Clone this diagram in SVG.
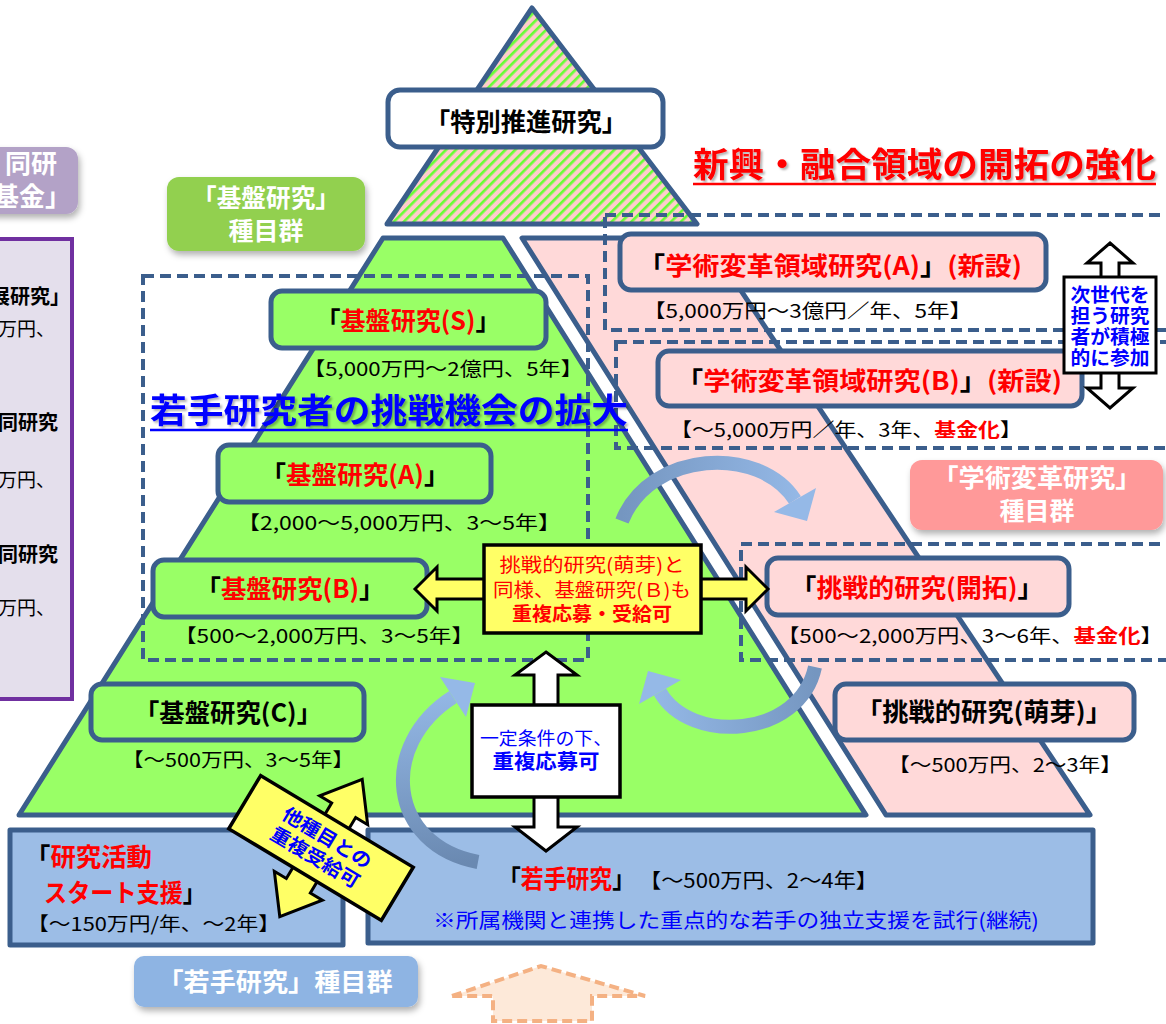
<svg xmlns="http://www.w3.org/2000/svg" width="1166" height="1024" viewBox="0 0 1166 1024">
<defs>
<style>
text{font-family:"Noto Sans CJK JP","Noto Sans",sans-serif;}
.b{font-weight:700}
.r{fill:#ff0000}
.k{fill:#000000}
.bl{fill:#0000ff}
.w{fill:#ffffff}
.nd{stroke:#3b5e8c;stroke-width:5;stroke-linejoin:round}
.gn{fill:#99ff66}
.pk{fill:#ffd9d9}
.bx{fill:#9cbde6}
.ds{fill:none;stroke:#3b5e8c;stroke-width:4;stroke-dasharray:11 6}
.ar{stroke:#000000;stroke-width:3;stroke-linejoin:miter}
.yl{fill:#ffff66}
.f19{font-size:19px}
.f20{font-size:20px}
.f25{font-size:25px}
.cv{fill:none;stroke-width:14}
</style>
<pattern id="hatch" width="7" height="7" patternUnits="userSpaceOnUse" patternTransform="rotate(45)">
<rect width="7" height="7" fill="#ffcccc"/>
<rect width="2.6" height="7" fill="#66ff33"/>
</pattern>
<filter id="sh" x="-10%" y="-15%" width="130%" height="150%">
<feDropShadow dx="2" dy="4" stdDeviation="3" flood-color="#000" flood-opacity="0.3"/>
</filter>
<filter id="tsh" x="-5%" y="-20%" width="110%" height="150%">
<feDropShadow dx="2" dy="2" stdDeviation="1" flood-color="#000" flood-opacity="0.3"/>
</filter>
<linearGradient id="g1" gradientUnits="userSpaceOnUse" x1="622" y1="520" x2="805" y2="520">
<stop offset="0" stop-color="#7596c0"/><stop offset="1" stop-color="#95b9e7"/>
</linearGradient>
<linearGradient id="g2" gradientUnits="userSpaceOnUse" x1="815" y1="667" x2="648" y2="680">
<stop offset="0" stop-color="#7596c0"/><stop offset="1" stop-color="#95b9e7"/>
</linearGradient>
<linearGradient id="g3" gradientUnits="userSpaceOnUse" x1="478" y1="862" x2="460" y2="685">
<stop offset="0" stop-color="#6a89b1"/><stop offset="1" stop-color="#95b9e7"/>
</linearGradient>
</defs>
<rect width="1166" height="1024" fill="#ffffff"/>

<g id="background-shapes">
<polygon points="383,238 503,238 866,815 19,815" class="gn nd"/>
<polygon points="522,238 706,238 1090,815 886,815" class="pk nd"/>
<polygon points="532,8 697,224 387,224" fill="url(#hatch)" class="nd"/>
</g>

<g id="group-kokusai">
<rect x="-20" y="147" width="98" height="67" rx="12" fill="#b3a2c7" filter="url(#sh)"/>
<text x="57" y="173" class="b w" font-size="26" text-anchor="end">同研</text>
<text x="71" y="206" class="b w" font-size="26" text-anchor="end">基金」</text>
<rect x="-6" y="239" width="78" height="460" fill="#e4dfec" stroke="#7030a0" stroke-width="4"/>
<text x="70" y="304" class="b k f20" text-anchor="end">展研究」</text>
<text x="-2" y="336" class="k f19">万円、</text>
<text x="58" y="430" class="b k f20" text-anchor="end">同研究</text>
<text x="-2" y="487" class="k f19">万円、</text>
<text x="58" y="562" class="b k f20" text-anchor="end">同研究</text>
<text x="-2" y="615" class="k f19">万円、</text>
</g>

<g id="dashed-groups">
<rect class="ds" x="143" y="276" width="445" height="384"/>
<rect class="ds" x="605" y="215" width="580" height="115"/>
<rect class="ds" x="616" y="342" width="570" height="106"/>
<rect class="ds" x="741" y="544" width="445" height="116"/>
</g>

<g id="node-tokubetsu">
<rect x="388" y="90" width="275" height="57" rx="12" fill="#ffffff" class="nd"/>
<text x="526" y="131" class="b k f25" text-anchor="middle" textLength="202" lengthAdjust="spacingAndGlyphs">「特別推進研究」</text>
</g>

<g id="label-kiban">
<rect x="167" y="177" width="198" height="74" rx="12" fill="#92d050" filter="url(#sh)"/>
<text x="266" y="207" class="b w f25" text-anchor="middle" textLength="148" lengthAdjust="spacingAndGlyphs">「基盤研究」</text>
<text x="266" y="240" class="b w f25" text-anchor="middle">種目群</text>
</g>

<g id="node-kiban-s">
<rect x="271" y="291" width="275" height="57" rx="11" class="gn nd"/>
<text x="408" y="330" class="b f25" text-anchor="middle" textLength="185" lengthAdjust="spacingAndGlyphs"><tspan class="k">「</tspan><tspan class="r">基盤研究(S)</tspan><tspan class="k">」</tspan></text>
<text x="443" y="376" class="k f19" text-anchor="middle" textLength="280" lengthAdjust="spacingAndGlyphs">【5,000万円～2億円、5年】</text>
</g>

<g id="title-wakate">
<text x="150" y="423" class="b bl" font-size="34" textLength="478" lengthAdjust="spacingAndGlyphs" filter="url(#tsh)">若手研究者の挑戦機会の拡大</text>
<line x1="150" y1="430" x2="628" y2="430" stroke="#0000ff" stroke-width="2.5"/>
</g>

<g id="node-kiban-a">
<rect x="218" y="445" width="273" height="57" rx="11" class="gn nd"/>
<text x="355" y="484" class="b f25" text-anchor="middle" textLength="189" lengthAdjust="spacingAndGlyphs"><tspan class="k">「</tspan><tspan class="r">基盤研究(A)</tspan><tspan class="k">」</tspan></text>
<text x="399" y="530" class="k f19" text-anchor="middle" textLength="324" lengthAdjust="spacingAndGlyphs">【2,000～5,000万円、3～5年】</text>
</g>

<g id="node-kiban-b">
<rect x="153" y="560" width="274" height="57" rx="11" class="gn nd"/>
<text x="290" y="598" class="b f25" text-anchor="middle" textLength="189" lengthAdjust="spacingAndGlyphs"><tspan class="k">「</tspan><tspan class="r">基盤研究(B)</tspan><tspan class="k">」</tspan></text>
<text x="324" y="643" class="k f19" text-anchor="middle" textLength="300" lengthAdjust="spacingAndGlyphs">【500～2,000万円、3～5年】</text>
</g>

<g id="node-kiban-c">
<rect x="91" y="684" width="273" height="56" rx="11" class="gn nd"/>
<text x="228" y="722" class="b k f25" text-anchor="middle" textLength="188" lengthAdjust="spacingAndGlyphs">「基盤研究(C)」</text>
<text x="238" y="767" class="k f19" text-anchor="middle" textLength="232" lengthAdjust="spacingAndGlyphs">【～500万円、3～5年】</text>
</g>

<g id="title-shinko">
<text x="693" y="177" class="b r" font-size="34" textLength="463" lengthAdjust="spacingAndGlyphs" filter="url(#tsh)">新興・融合領域の開拓の強化</text>
<line x1="693" y1="184" x2="1156" y2="184" stroke="#ff0000" stroke-width="2.5"/>
</g>

<g id="node-gakujutsu-a">
<rect x="620" y="234" width="426" height="56" rx="11" class="pk nd"/>
<text x="830" y="275" class="b f25" text-anchor="middle" textLength="384" lengthAdjust="spacingAndGlyphs"><tspan class="k">「</tspan><tspan class="r">学術変革領域研究(A)</tspan><tspan class="k">」</tspan><tspan class="r">(新設)</tspan></text>
<text x="643" y="318" class="k f19" textLength="329" lengthAdjust="spacingAndGlyphs">【5,000万円～3億円／年、5年】</text>
</g>

<g id="node-gakujutsu-b">
<rect x="658" y="351" width="424" height="55" rx="11" class="pk nd"/>
<text x="869" y="390" class="b f25" text-anchor="middle" textLength="386" lengthAdjust="spacingAndGlyphs"><tspan class="k">「</tspan><tspan class="r">学術変革領域研究(B)</tspan><tspan class="k">」</tspan><tspan class="r">(新設)</tspan></text>
<text x="670" y="437" class="k f19" textLength="352" lengthAdjust="spacingAndGlyphs">【～5,000万円／年、3年、<tspan class="r b">基金化</tspan>】</text>
</g>

<g id="label-gakujutsu">
<rect x="910" y="460" width="253" height="70" rx="12" fill="#ff9999" filter="url(#sh)"/>
<text x="1037" y="487" class="b w f25" text-anchor="middle" textLength="209" lengthAdjust="spacingAndGlyphs">「学術変革研究」</text>
<text x="1037" y="520" class="b w f25" text-anchor="middle">種目群</text>
</g>

<g id="node-kaitaku">
<rect x="767" y="558" width="302" height="57" rx="11" class="pk nd"/>
<text x="917" y="597" class="b f25" text-anchor="middle" textLength="253" lengthAdjust="spacingAndGlyphs"><tspan class="k">「</tspan><tspan class="r">挑戦的研究(開拓)</tspan><tspan class="k">」</tspan></text>
<text x="777" y="643" class="k f19" textLength="386" lengthAdjust="spacingAndGlyphs">【500～2,000万円、3～6年、<tspan class="r b">基金化</tspan>】</text>
</g>

<g id="node-houga">
<rect x="835" y="684" width="299" height="56" rx="11" class="pk nd"/>
<text x="984" y="721" class="b k f25" text-anchor="middle" textLength="256" lengthAdjust="spacingAndGlyphs">「挑戦的研究(萌芽)」</text>
<text x="1005" y="772" class="k f19" text-anchor="middle" textLength="234" lengthAdjust="spacingAndGlyphs">【～500万円、2～3年】</text>
</g>

<g id="node-start">
<rect x="10" y="830" width="333" height="115" class="bx nd"/>
<text x="25" y="866" class="b f25" textLength="127" lengthAdjust="spacingAndGlyphs"><tspan class="k">「</tspan><tspan class="r">研究活動</tspan></text>
<text x="44" y="902" class="b f25" textLength="162" lengthAdjust="spacingAndGlyphs"><tspan class="r">スタート支援</tspan><tspan class="k">」</tspan></text>
<text x="27" y="931" class="k f19" textLength="253" lengthAdjust="spacingAndGlyphs">【～150万円/年、～2年】</text>
</g>

<g id="node-wakate">
<rect x="368" y="830" width="725" height="113" class="bx nd"/>
<text x="498" y="888" class="b f25" textLength="137" lengthAdjust="spacingAndGlyphs"><tspan class="k">「</tspan><tspan class="r">若手研究</tspan><tspan class="k">」</tspan></text>
<text x="639" y="888" class="k f20" textLength="239" lengthAdjust="spacingAndGlyphs">【～500万円、2～4年】</text>
<text x="433" y="928" class="bl f20" textLength="606" lengthAdjust="spacingAndGlyphs">※所属機関と連携した重点的な若手の独立支援を試行(継続)</text>
</g>

<g id="label-wakate">
<rect x="134" y="956" width="284" height="51" rx="10" fill="#8eb4e3" filter="url(#sh)"/>
<text x="275" y="991" class="b w f25" text-anchor="middle" textLength="235" lengthAdjust="spacingAndGlyphs">「若手研究」種目群</text>
</g>

<g id="house-arrow">
<polygon points="452,996 541,966 645,996 592,996 592,1021 493,1021 493,996" fill="#fde9d9" stroke="#f4b183" stroke-width="4" stroke-dasharray="10 5"/>
</g>

<g id="connectors">
<path class="cv" stroke="url(#g1)" d="M 622 521 C 650 450 760 445 795 500"/>
<polygon points="774,512 816,488 807,521" fill="#95b9e7"/>
<path class="cv" stroke="url(#g2)" d="M 815 667 C 800 738 690 745 660 692"/>
<polygon points="681,680 639,704 648,671" fill="#95b9e7"/>
<path class="cv" stroke="url(#g3)" stroke-width="17" d="M 478 862 C 388 845 378 745 453 697"/>
<polygon points="466,717 440,677 475,683" fill="#95b9e7"/>

<polygon points="415,589 437,567 437,579 746,579 746,567 768,589 746,611 746,599 437,599 437,611" class="yl ar"/>
<polygon points="546,652 577,675 558,675 558,827 577,827 546,851 515,827 534,827 534,675 515,675" fill="#ffffff" class="ar"/>
<polygon points="1110,243 1133,263 1119,263 1119,388 1133,388 1110,408 1087,388 1101,388 1101,263 1087,263" fill="#ffffff" class="ar"/>
<g transform="translate(321,848) rotate(31)">
<polygon points="0,-80 28,-44 14,-44 14,44 28,44 0,80 -28,44 -14,44 -14,-44 -28,-44" class="yl ar"/>
</g>
</g>

<g id="label-juufuku-b">
<rect x="484" y="545" width="217" height="88" class="yl" stroke="#000" stroke-width="3.5"/>
<text x="592" y="572" class="r f19" text-anchor="middle" textLength="185" lengthAdjust="spacingAndGlyphs">挑戦的研究(萌芽)と</text>
<text x="592" y="597" class="r f19" text-anchor="middle" textLength="198" lengthAdjust="spacingAndGlyphs">同様、基盤研究(Ｂ)も</text>
<text x="592" y="621" class="r b f19" text-anchor="middle" textLength="160" lengthAdjust="spacingAndGlyphs">重複応募・受給可</text>
</g>

<g id="label-ittei">
<rect x="472" y="705" width="148" height="92" fill="#ffffff" stroke="#000" stroke-width="3.5"/>
<text x="546" y="745" class="bl" font-size="18" text-anchor="middle" textLength="132" lengthAdjust="spacingAndGlyphs">一定条件の下、</text>
<text x="546" y="769" class="bl b f20" text-anchor="middle" textLength="107" lengthAdjust="spacingAndGlyphs">重複応募可</text>
</g>

<g id="label-jisedai">
<rect x="1064" y="277" width="92" height="96" fill="#ffffff" stroke="#000" stroke-width="3"/>
<text x="1110" y="302" class="bl b f19" text-anchor="middle" textLength="79" lengthAdjust="spacingAndGlyphs">次世代を</text>
<text x="1110" y="323" class="bl b f19" text-anchor="middle" textLength="79" lengthAdjust="spacingAndGlyphs">担う研究</text>
<text x="1110" y="344" class="bl b f19" text-anchor="middle" textLength="79" lengthAdjust="spacingAndGlyphs">者が積極</text>
<text x="1110" y="365" class="bl b f19" text-anchor="middle" textLength="79" lengthAdjust="spacingAndGlyphs">的に参加</text>
</g>

<g id="label-tashumoku" transform="translate(321,848) rotate(31)">
<rect x="-89" y="-31" width="178" height="62" class="yl" stroke="#000" stroke-width="3.5"/>
<text x="0" y="-5" class="bl b f19" text-anchor="middle" textLength="100" lengthAdjust="spacingAndGlyphs">他種目との</text>
<text x="0" y="18" class="bl b f19" text-anchor="middle" textLength="100" lengthAdjust="spacingAndGlyphs">重複受給可</text>
</g>
</svg>
